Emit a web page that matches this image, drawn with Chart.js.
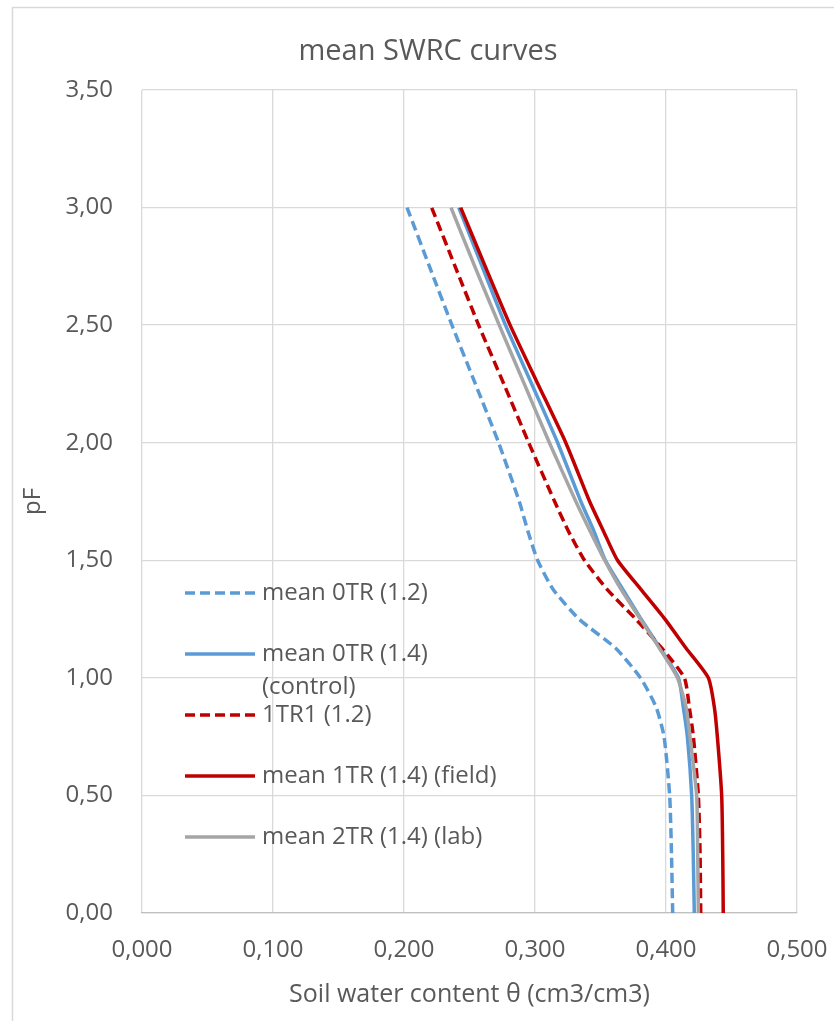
<!DOCTYPE html>
<html>
<head>
<meta charset="utf-8">
<script src="https://cdn.jsdelivr.net/npm/chart.js@4.4.1/dist/chart.umd.min.js"></script>
<style>
    html, body { margin: 0; padding: 0; background: #fff; }
    #wrap { width: 834px; height: 1021px; }
</style>
</head>
<body>
<div id="wrap"><canvas id="chart" width="834" height="1021"></canvas></div>
<script>
'use strict';

const pfLevels = [0, 0.25, 0.5, 0.75, 0.875, 1.0, 1.125, 1.25, 1.375, 1.5, 1.625, 1.75, 2.0, 2.25, 2.5, 2.75, 3.0];

// soil water content (cm3/cm3) per series, same order as pfLevels
const mean0TR12 = [0.4051, 0.4042, 0.4028, 0.3985, 0.3925, 0.3805, 0.3618, 0.3336, 0.3140, 0.3020, 0.2945, 0.2880, 0.2722, 0.2545, 0.2366, 0.2194, 0.2023];
const mean0TR14 = [0.4216, 0.4208, 0.4196, 0.4163, 0.4132, 0.4095, 0.3956, 0.3810, 0.3672, 0.3537, 0.3449, 0.3350, 0.3173, 0.2975, 0.2775, 0.2596, 0.2418];
const tr1TR1_12 = [0.4265, 0.4260, 0.4247, 0.4209, 0.4178, 0.4140, 0.3970, 0.3769, 0.3552, 0.3378, 0.3254, 0.3150, 0.2952, 0.2762, 0.2570, 0.2390, 0.2211];
const mean1TR14 = [0.4437, 0.4433, 0.4425, 0.4392, 0.4369, 0.4323, 0.4155, 0.3992, 0.3810, 0.3630, 0.3522, 0.3417, 0.3235, 0.3022, 0.2810, 0.2620, 0.2433];
const mean2TR14 = [0.4247, 0.4242, 0.4234, 0.4183, 0.4153, 0.4087, 0.3951, 0.3804, 0.3658, 0.3532, 0.3420, 0.3312, 0.3110, 0.2918, 0.2727, 0.2540, 0.2359];

const seriesLabels = ['mean 0TR (1.2)', 'mean 0TR (1.4)\n(control)', '1TR1 (1.2)', 'mean 1TR (1.4) (field)', 'mean 2TR (1.4) (lab)'];

const xTickLabels = ['0,000', '0,100', '0,200', '0,300', '0,400', '0,500'];
const yTickLabels = ['0,00', '0,50', '1,00', '1,50', '2,00', '2,50', '3,00', '3,50'];

const chartTitle = 'mean SWRC curves';

const FONT = '"Open Sans", sans-serif';
const TEXT = '#595959';

function toPoints(thetas) {
    return thetas.map((t, i) => ({ x: t, y: pfLevels[i] }));
}

// 凡例はプロット内の左下に手で描く（Excel風）
const insideLegend = {
    id: 'insideLegend',
    afterDraw(chart) {
        const { ctx, chartArea } = chart;
        ctx.save();
        ctx.font = '24px ' + FONT;
        ctx.fillStyle = TEXT;
        ctx.textBaseline = 'middle';
        chart.data.datasets.forEach((ds, i) => {
            const x = chartArea.left + 43;
            const y = chartArea.bottom - 320 + i * 61;
            ctx.beginPath();
            ctx.strokeStyle = ds.borderColor;
            ctx.lineWidth = ds.borderWidth;
            ctx.setLineDash(ds.borderDash || []);
            ctx.moveTo(x, y);
            ctx.lineTo(x + 70, y);
            ctx.stroke();
            ctx.setLineDash([]);
            ds.label.split('\n').forEach((line, j) => ctx.fillText(line, x + 77, y + j * 33));
        });
        ctx.restore();
    }
};

// 外枠とタイトル（タイトルは枠全体の中央）
const frame = {
    id: 'frame',
    beforeDraw(chart) {
        const { ctx, width, height } = chart;
        ctx.save();
        ctx.fillStyle = '#fff';
        ctx.fillRect(0, 0, width, height);
        ctx.strokeStyle = '#d9d9d9';
        ctx.lineWidth = 1.5;
        ctx.beginPath();
        ctx.moveTo(12.5, height);
        ctx.lineTo(12.5, 7.5);
        ctx.lineTo(width, 7.5);
        ctx.stroke();
        ctx.font = '29px ' + FONT;
        ctx.fillStyle = TEXT;
        ctx.textAlign = 'center';
        ctx.textBaseline = 'alphabetic';
        ctx.fillText(chartTitle, 428, 60);
        ctx.restore();
    }
};

function line(label, data, color, dashed, order) {
    return {
        label: label,
        data: toPoints(data),
        borderColor: color,
        backgroundColor: color,
        borderWidth: 3.5,
        borderDash: dashed ? [10, 5] : [],
        pointRadius: 0,
        showLine: true,
        tension: 0.2,
        order: order
    };
}

new Chart(document.getElementById('chart'), {
    type: 'scatter',
    data: {
        datasets: [
            line(seriesLabels[0], mean0TR12, '#5B9BD5', true, 4),
            line(seriesLabels[1], mean0TR14, '#5B9BD5', false, 3),
            line(seriesLabels[2], tr1TR1_12, '#C00000', true, 2),
            line(seriesLabels[3], mean1TR14, '#C00000', false, 1),
            line(seriesLabels[4], mean2TR14, '#A5A5A5', false, 0)
        ]
    },
    options: {
        responsive: false,
        animation: false,
        devicePixelRatio: 1,
        layout: { padding: { left: 0, right: 37, top: 90, bottom: 0 } },
        plugins: {
            legend: { display: false },
            tooltip: { enabled: false },
            title: { display: false }
        },
        scales: {
            x: {
                type: 'linear',
                min: 0,
                max: 0.5,
                afterFit: s => { s.height = 108; s.paddingLeft = 0; s.paddingRight = 0; },
                ticks: {
                    stepSize: 0.1,
                    padding: 23,
                    color: TEXT,
                    font: { family: FONT, size: 24 },
                    callback: (v, i) => xTickLabels[i]
                },
                grid: { color: '#d9d9d9', lineWidth: 1.3, drawTicks: false },
                border: { display: true, color: '#bfbfbf', width: 1.3 },
                title: {
                    display: true,
                    text: 'Soil water content θ (cm3/cm3)',
                    color: TEXT,
                    font: { family: FONT, size: 25 },
                    padding: { top: 0, bottom: 11 }
                }
            },
            y: {
                type: 'linear',
                min: 0,
                max: 3.5,
                afterFit: s => { s.width = 142; s.paddingTop = 0; s.paddingBottom = 0; },
                ticks: {
                    stepSize: 0.5,
                    padding: 29,
                    color: TEXT,
                    font: { family: FONT, size: 24 },
                    callback: (v, i) => yTickLabels[i]
                },
                grid: { color: '#d9d9d9', lineWidth: 1.3, drawTicks: false },
                border: { display: false },
                title: {
                    display: true,
                    text: 'pF',
                    color: TEXT,
                    font: { family: FONT, size: 24 },
                    padding: { top: 19, bottom: 0 }
                }
            }
        }
    },
    plugins: [frame, insideLegend]
});
</script>
</body>
</html>
